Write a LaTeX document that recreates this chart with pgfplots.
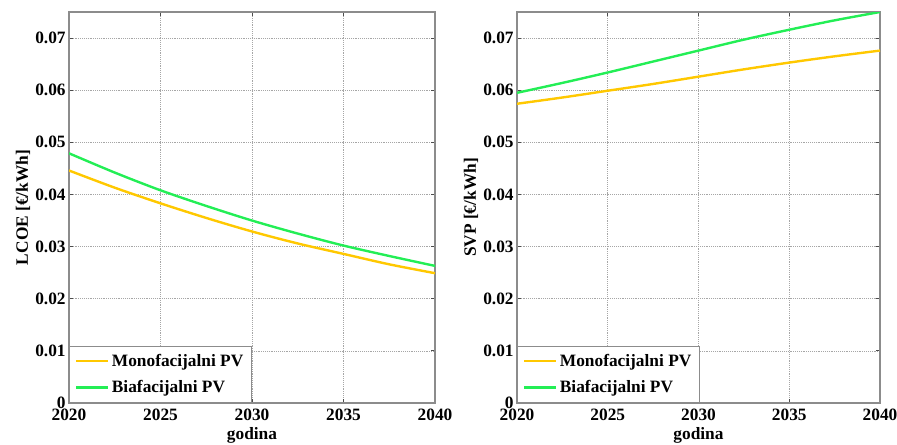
\documentclass[border=0pt]{standalone}
\usepackage{fontspec}
\setmainfont{Liberation Serif}
\usepackage{pgfplots}
\pgfplotsset{compat=1.18}
\definecolor{mono}{RGB}{255,200,0}
\definecolor{bif}{RGB}{35,238,85}
\definecolor{frame}{RGB}{140,140,140}
\pgfplotsset{
  matl/.style={
    scale only axis,
    xmin=2020, xmax=2040, ymin=0, ymax=0.075,
    xtick={2020,2025,2030,2035,2040},
    ytick={0,0.01,0.02,0.03,0.04,0.05,0.06,0.07},
    scaled y ticks=false,
    grid=major,
    major grid style={densely dotted, black!35, line width=0.5pt},
    axis line style={frame, line width=0.8pt},
    tick style={black!70, line width=0.6pt},
    tick align=inside,
    xtick pos=both, ytick pos=both,
    major tick length=3pt,
    /pgf/number format/assume math mode=true,
    xticklabel style={font=\fontsize{13}{14}\selectfont\bfseries, /pgf/number format/set thousands separator={}, yshift=-1pt},
    yticklabel style={font=\fontsize{13}{14}\selectfont\bfseries, /pgf/number format/fixed, /pgf/number format/precision=2, xshift=1pt},
    xlabel={godina},
    xlabel style={font=\fontsize{13}{14}\selectfont\bfseries, yshift=2pt},
    ylabel style={font=\fontsize{13}{14}\selectfont\bfseries, yshift=-3pt},
    legend cell align=left,
    legend style={at={(0,0)}, anchor=south west, draw=frame, line width=0.8pt,
      font=\fontsize{13}{14}\selectfont\bfseries, inner xsep=4pt, inner ysep=4pt,
      row sep=5pt, /tikz/every even column/.append style={column sep=0pt}},
    legend image code/.code={\draw[#1, line width=1.8pt] (0pt,0pt) -- (24pt,0pt);},
    every axis plot/.append style={line width=1.8pt, smooth},
  }
}
\begin{document}
\begin{tikzpicture}
\begin{axis}[matl, at={(51.75pt,30.75pt)}, anchor=south west,
  width=274.5pt, height=293.25pt,
  ylabel={LCOE [€/kWh]}]
\addplot[mono] coordinates {(2020,0.0446) (2022.5,0.0413) (2025,0.0383) (2027.5,0.0355) (2030,0.0329) (2032.5,0.0306) (2035,0.0286) (2037.5,0.0266) (2040,0.0249)};
\addlegendentry{Monofacijalni PV}
\addplot[bif] coordinates {(2020,0.0479) (2022.5,0.0442) (2025,0.0408) (2027.5,0.0378) (2030,0.0350) (2032.5,0.0325) (2035,0.0302) (2037.5,0.0282) (2040,0.0263)};
\addlegendentry{Biafacijalni PV}
\end{axis}
\begin{axis}[matl, at={(387.75pt,30.75pt)}, anchor=south west,
  width=272.25pt, height=293.25pt,
  ylabel={SVP [€/kWh]}]
\addplot[mono] coordinates {(2020,0.0574) (2022.5,0.0586) (2025,0.0599) (2027.5,0.0612) (2030,0.0626) (2032.5,0.0640) (2035,0.0653) (2037.5,0.0665) (2040,0.0676)};
\addlegendentry{Monofacijalni PV}
\addplot[bif] coordinates {(2020,0.0595) (2022.5,0.0614) (2025,0.0634) (2027.5,0.0655) (2030,0.0676) (2032.5,0.0697) (2035,0.0716) (2037.5,0.0734) (2040,0.0750)};
\addlegendentry{Biafacijalni PV}
\end{axis}
\pgfresetboundingbox
\path (0,0) rectangle (672.75pt,333pt);
\end{tikzpicture}
\end{document}
